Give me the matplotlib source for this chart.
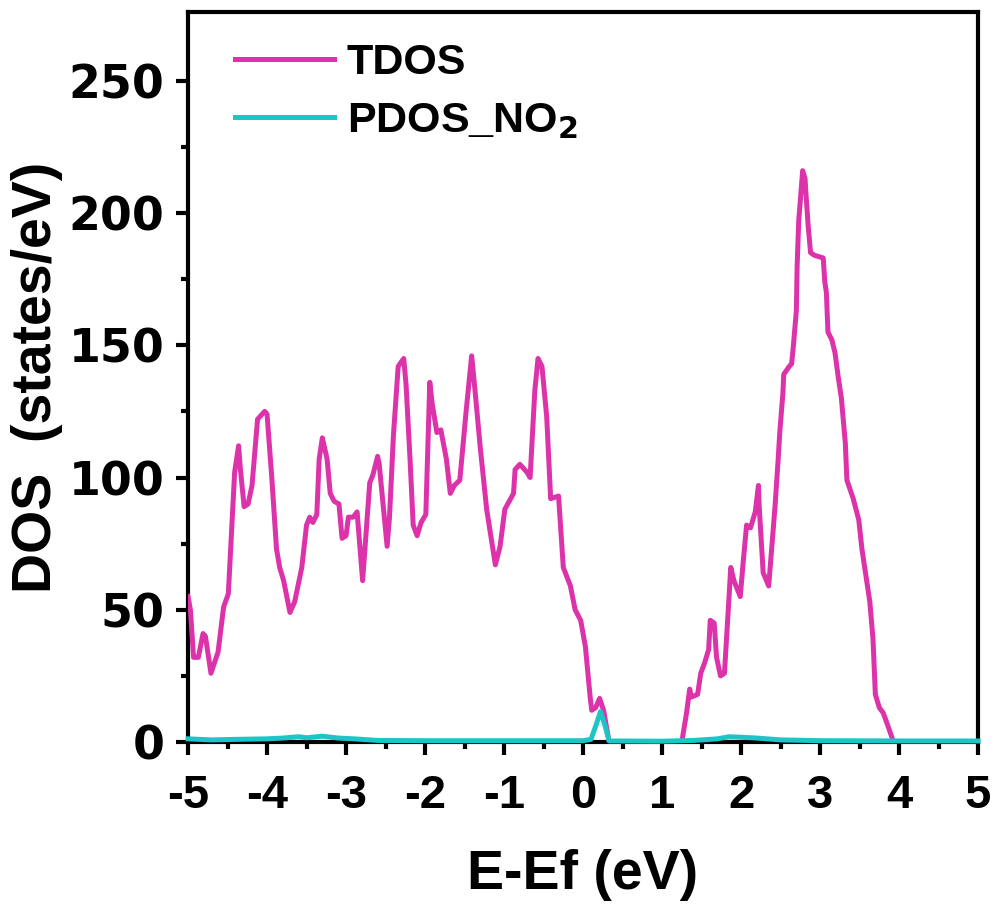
import numpy as np
import matplotlib
matplotlib.use('Agg')
import matplotlib.pyplot as plt
from matplotlib.ticker import MultipleLocator, FixedLocator

# TDOS (states/eV)
tdos_e = [-5.00, -4.97, -4.93, -4.87, -4.81, -4.78, -4.71, -4.62, -4.55, -4.49,
          -4.43, -4.41, -4.36, -4.34, -4.29, -4.24, -4.19, -4.12, -4.03, -4.00,
          -3.94, -3.88, -3.84, -3.79, -3.71, -3.65, -3.56, -3.50, -3.46, -3.42,
          -3.37, -3.34, -3.30, -3.24, -3.20, -3.15, -3.09, -3.05, -3.00, -2.97,
          -2.91, -2.86, -2.79, -2.70, -2.66, -2.60, -2.58, -2.48, -2.45, -2.40,
          -2.34, -2.27, -2.24, -2.19, -2.15, -2.10, -2.05, -1.99, -1.94, -1.91,
          -1.85, -1.80, -1.73, -1.68, -1.63, -1.56, -1.48, -1.41, -1.38, -1.30,
          -1.22, -1.11, -1.05, -0.99, -0.88, -0.86, -0.80, -0.71, -0.67, -0.61,
          -0.57, -0.52, -0.46, -0.41, -0.31, -0.25, -0.16, -0.10, -0.03, 0.03,
          0.09, 0.11, 0.16, 0.21, 0.26, 0.33, 1.25, 1.31, 1.35, 1.37,
          1.45, 1.49, 1.54, 1.59, 1.61, 1.66, 1.69, 1.74, 1.79, 1.84,
          1.87, 1.91, 1.99, 2.03, 2.07, 2.12, 2.18, 2.22, 2.23, 2.28,
          2.35, 2.39, 2.43, 2.47, 2.49, 2.53, 2.54, 2.61, 2.64, 2.66,
          2.70, 2.71, 2.73, 2.78, 2.81, 2.82, 2.85, 2.88, 2.93, 3.04,
          3.06, 3.08, 3.10, 3.15, 3.19, 3.23, 3.27, 3.32, 3.34, 3.42,
          3.49, 3.53, 3.59, 3.63, 3.67, 3.70, 3.75, 3.80, 3.86, 3.93, 5.00]
tdos = [55, 50, 32, 32, 41, 40, 26, 34, 51, 56,
        90, 102, 112, 104, 89, 90, 97, 122, 125, 124,
        100, 73, 66, 61, 49, 53, 66, 82, 85, 83,
        86, 107, 115, 107, 94, 91, 90, 77, 78, 85,
        85, 87, 61, 98, 101, 108, 105, 74, 85, 116,
        142, 145, 135, 107, 82, 78, 83, 86, 136, 128,
        117, 118, 107, 94, 97, 99, 125, 146, 137, 111,
        88, 67, 74, 88, 94, 103, 105, 102, 100, 133,
        145, 142, 123, 92, 93, 66, 59, 50, 46, 36,
        17, 12, 13, 16.5, 12, 0, 0, 11, 20, 17,
        18, 26, 30, 35, 46, 45, 32, 25, 26, 51,
        66, 61, 55, 69, 82, 81, 87, 97, 89, 64,
        59, 74, 89, 107, 117, 132, 139, 142, 143, 149,
        163, 180, 197, 216, 213, 208, 195, 185, 184, 183,
        174, 170, 155, 152, 147, 138, 130, 113, 99, 92,
        84, 73, 61, 53, 39, 18, 13, 11, 6, 0, 0]

# PDOS of NO2
pdos_e = [-5.0, -4.7, -4.4, -4.0, -3.8, -3.6, -3.5, -3.3, -3.1, -2.9,
          -2.6, -2.0, -1.0, -0.4, 0.0, 0.10, 0.16, 0.22, 0.28, 0.33,
          1.0, 1.4, 1.7, 1.85, 2.0, 2.2, 2.5, 3.0, 4.0, 5.0]
pdos = [1.2, 0.8, 1.0, 1.2, 1.5, 2.0, 1.6, 2.2, 1.5, 1.2,
        0.6, 0.5, 0.5, 0.5, 0.5, 1.0, 6.0, 11.5, 6.0, 0.4,
        0.3, 0.6, 1.2, 2.0, 1.8, 1.5, 0.8, 0.5, 0.4, 0.4]

y_major = [0, 50, 100, 150, 200, 250]
y_minor = [25, 75, 125, 175, 225]

tdos_color = '#DC32AA'
pdos_color = '#1CC6C6'

plt.rcParams['font.family'] = ['Liberation Sans', 'DejaVu Sans']
plt.rcParams['font.weight'] = 'bold'
plt.rcParams['axes.unicode_minus'] = False

fig = plt.figure(figsize=(9.97, 9.08), dpi=100)
ax = fig.add_axes([0.1886, 0.1828, 0.981 - 0.1886, 0.9868 - 0.1828])

ax.plot(tdos_e, tdos, color=tdos_color, linewidth=3.6, label='TDOS', zorder=3)
ax.plot(pdos_e, pdos, color=pdos_color, linewidth=3.6, label='PDOS_NO$_\\mathbf{2}$',
        zorder=4, clip_on=False)

ax.set_xlim(-5, 5)
ax.set_ylim(0, 276)
ax.xaxis.set_major_locator(MultipleLocator(1))
ax.xaxis.set_minor_locator(MultipleLocator(0.5))
ax.yaxis.set_major_locator(FixedLocator(y_major))
ax.yaxis.set_minor_locator(FixedLocator(y_minor))

for s in ax.spines.values():
    s.set_linewidth(3)

ax.tick_params(which='major', direction='out', length=9, width=3)
ax.tick_params(which='minor', direction='out', length=5, width=3)
ax.tick_params(axis='x', which='major', labelsize=34, pad=14)
ax.tick_params(axis='y', which='major', labelsize=33, pad=8)
for lab in ax.get_yticklabels():
    lab.set_family('DejaVu Sans')
    lab.set_fontweight('bold')
for lab in ax.get_xticklabels():
    lab.set_fontweight('bold')

ax.set_xlabel('E-Ef (eV)', fontsize=40, fontweight='bold', labelpad=22)
ax.set_ylabel('DOS  (states/eV)', fontsize=40, fontweight='bold', labelpad=4)

leg = ax.legend(loc='upper left', bbox_to_anchor=(0.01, 1.01), frameon=False,
                handlelength=2.3, handletextpad=0.3, labelspacing=0.4,
                prop={'weight': 'bold', 'size': 31})
for line in leg.get_lines():
    line.set_linewidth(3.6)

fig.savefig('out.png', dpi=100)
